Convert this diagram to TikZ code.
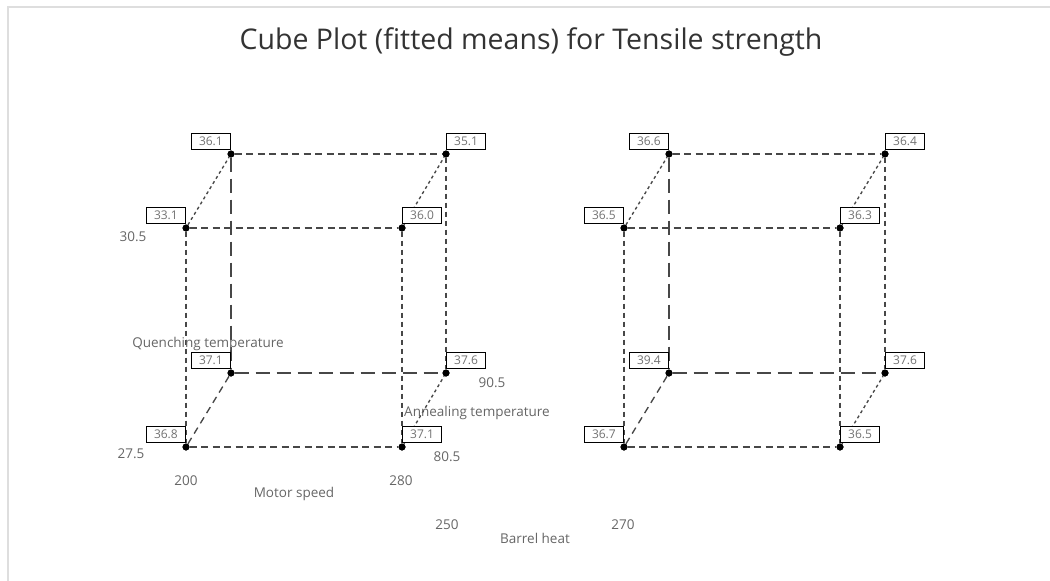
\documentclass[tikz,border=0pt]{standalone}
\usepackage{fontspec}
\setmainfont{Open Sans}
\begin{document}
\begin{tikzpicture}[x=1pt,y=-1pt,
  dot/.style={circle,fill=black,inner sep=0pt,minimum size=7pt},
  vbox/.style={draw=black,line width=1.2pt,fill=white,minimum width=39pt,minimum height=16pt,inner sep=0pt,font=\fontsize{12}{12}\selectfont,text=black!55},
  edge/.style={draw=black!72,line width=1.35pt},
  hdash/.style={edge,dash pattern=on 7pt off 4.5pt},
  ldash/.style={edge,dash pattern=on 14pt off 7pt},
  vdash/.style={edge,dash pattern=on 5pt off 4pt},
  ddot/.style={edge,dash pattern=on 3pt off 3pt},
  ddash/.style={edge,dash pattern=on 7pt off 5pt},
  lbl/.style={text=black!60,font=\fontsize{13.5}{14}\selectfont,inner sep=0pt},
  ttl/.style={text=black!80,font=\fontsize{28.5}{30}\selectfont,inner sep=0pt}]
\useasboundingbox (0,0) rectangle (1050,581);
\draw[black!13,line width=2pt] (8,581) -- (8,7) -- (1050,7);
\node[ttl] (title) at (531,42) {Cube Plot (fitted means) for Tensile strength};
% ---------- left cube ----------
\node[dot] (aFBL) at (186,447) {};
\node[dot] (aFBR) at (402,447) {};
\node[dot] (aBBL) at (231,373) {};
\node[dot] (aBBR) at (446,373) {};
\node[dot] (aFTL) at (186,228) {};
\node[dot] (aFTR) at (402,228) {};
\node[dot] (aBTL) at (231,154) {};
\node[dot] (aBTR) at (446,154) {};
\path[hdash] (aBTL) -- (aBTR);
\path[hdash] (aFTL) -- (aFTR);
\path[hdash] (aFBL) -- (aFBR);
\path[ldash] (aBBL) -- (aBBR);
\path[ldash] (aBTL) -- (aBBL);
\path[vdash] (aFTL) -- (aFBL);
\path[vdash] (aFTR) -- (aFBR);
\path[vdash] (aBTR) -- (aBBR);
\path[ddot] (aFTL) -- (aBTL);
\path[ddot] (aFTR) -- (aBTR);
\path[ddash] (aFBL) -- (aBBL);
\path[ddot] (aFBR) -- (aBBR);
% ---------- right cube ----------
\node[dot] (bFBL) at (624,447) {};
\node[dot] (bFBR) at (840,447) {};
\node[dot] (bBBL) at (669,373) {};
\node[dot] (bBBR) at (885,373) {};
\node[dot] (bFTL) at (624,228) {};
\node[dot] (bFTR) at (840,228) {};
\node[dot] (bBTL) at (669,154) {};
\node[dot] (bBTR) at (885,154) {};
\path[hdash] (bBTL) -- (bBTR);
\path[hdash] (bFTL) -- (bFTR);
\path[hdash] (bFBL) -- (bFBR);
\path[ldash] (bBBL) -- (bBBR);
\path[ldash] (bBTL) -- (bBBL);
\path[vdash] (bFTL) -- (bFBL);
\path[vdash] (bFTR) -- (bFBR);
\path[vdash] (bBTR) -- (bBBR);
\path[ddot] (bFTL) -- (bBTL);
\path[ddot] (bFTR) -- (bBTR);
\path[ddash] (bFBL) -- (bBBL);
\path[ddot] (bFBR) -- (bBBR);
% ---------- value boxes ----------
\node[vbox,anchor=south east] (vaFBL) at ([yshift=4pt]aFBL.center) {36.8};
\node[vbox,anchor=south west] (vaFBR) at ([yshift=4pt]aFBR.center) {37.1};
\node[vbox,anchor=south east] (vaBBL) at ([yshift=4pt]aBBL.center) {37.1};
\node[vbox,anchor=south west] (vaBBR) at ([yshift=4pt]aBBR.center) {37.6};
\node[vbox,anchor=south east] (vaFTL) at ([yshift=4pt]aFTL.center) {33.1};
\node[vbox,anchor=south west] (vaFTR) at ([yshift=4pt]aFTR.center) {36.0};
\node[vbox,anchor=south east] (vaBTL) at ([yshift=4pt]aBTL.center) {36.1};
\node[vbox,anchor=south west] (vaBTR) at ([yshift=4pt]aBTR.center) {35.1};
\node[vbox,anchor=south east] (vbFBL) at ([yshift=4pt]bFBL.center) {36.7};
\node[vbox,anchor=south west] (vbFBR) at ([yshift=4pt]bFBR.center) {36.5};
\node[vbox,anchor=south east] (vbBBL) at ([yshift=4pt]bBBL.center) {39.4};
\node[vbox,anchor=south west] (vbBBR) at ([yshift=4pt]bBBR.center) {37.6};
\node[vbox,anchor=south east] (vbFTL) at ([yshift=4pt]bFTL.center) {36.5};
\node[vbox,anchor=south west] (vbFTR) at ([yshift=4pt]bFTR.center) {36.3};
\node[vbox,anchor=south east] (vbBTL) at ([yshift=4pt]bBTL.center) {36.6};
\node[vbox,anchor=south west] (vbBTR) at ([yshift=4pt]bBTR.center) {36.4};
% ---------- axis labels ----------
\node[lbl] (q30) at (133,237) {30.5};
\node[lbl] (q27) at (131,454) {27.5};
\node[lbl] (qt) at (208,344) {Quenching temperature};
\node[lbl] (a90) at (492,383) {90.5};
\node[lbl] (a80) at (447,457) {80.5};
\node[lbl] (at) at (477,413) {Annealing temperature};
\node[lbl] (m200) at (186,481) {200};
\node[lbl] (m280) at (401,481) {280};
\node[lbl] (mt) at (294,494) {Motor speed};
\node[lbl] (b250) at (447,525) {250};
\node[lbl] (b270) at (623,525) {270};
\node[lbl] (bt) at (535,538) {Barrel heat};
% dots on top
\foreach \n in {aFBL,aFBR,aBBL,aBBR,aFTL,aFTR,aBTL,aBTR,bFBL,bFBR,bBBL,bBBR,bFTL,bFTR,bBTL,bBTR}
  \fill (\n.center) circle (3.5pt);
\end{tikzpicture}
\end{document}
